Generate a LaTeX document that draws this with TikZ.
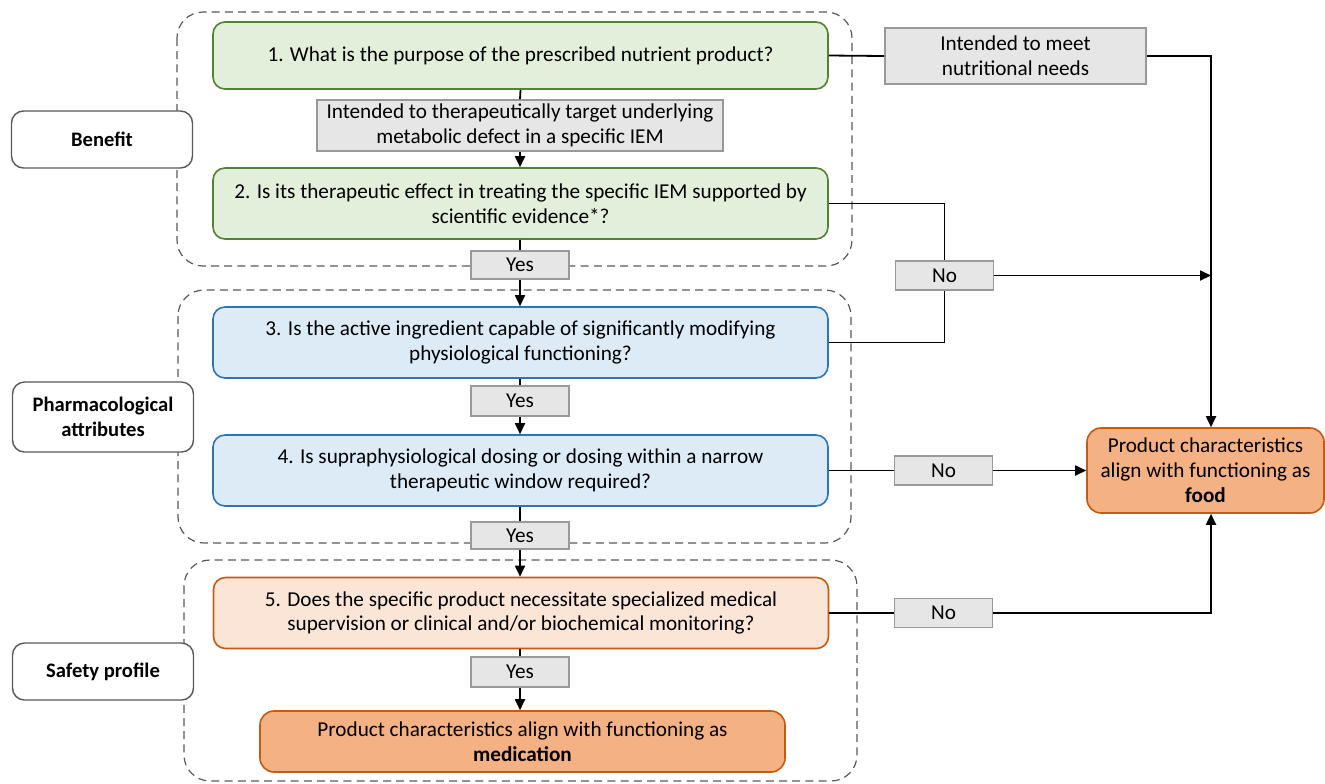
\documentclass[tikz,border=0pt]{standalone}
\usepackage{fontspec}
\setmainfont{Carlito}
\usetikzlibrary{arrows.meta}
\definecolor{grnfill}{HTML}{E2EFDA}
\definecolor{grnline}{HTML}{548235}
\definecolor{blufill}{HTML}{DDEBF7}
\definecolor{bluline}{HTML}{2E75B6}
\definecolor{pchfill}{HTML}{FBE5D6}
\definecolor{orgline}{HTML}{C55A11}
\definecolor{orgfill}{HTML}{F4B183}
\definecolor{gryfill}{HTML}{E6E6E6}
\definecolor{gryline}{HTML}{999999}
\definecolor{dashcol}{HTML}{595959}
\begin{document}
\begin{tikzpicture}[x=0.5pt,y=-0.5pt,
  every node/.style={font=\fontsize{10.6}{12.4}\selectfont, align=center, inner sep=0pt},
  qbox/.style={draw, rounded corners=6pt, line width=0.8pt, minimum width=307.5pt, minimum height=35.5pt},
  greenq/.style={qbox, fill=grnfill, draw=grnline},
  blueq/.style={qbox, fill=blufill, draw=bluline},
  peachq/.style={qbox, fill=pchfill, draw=orgline},
  result/.style={draw=orgline, fill=orgfill, rounded corners=7pt, line width=0.8pt},
  graybox/.style={draw=gryline, fill=gryfill, line width=0.9pt},
  answer/.style={graybox, minimum width=49pt, minimum height=14.5pt},
  label/.style={draw=dashcol, fill=white, rounded corners=6pt, line width=0.7pt, minimum width=90.5pt, font=\fontsize{10.3}{12.2}\selectfont\bfseries},
  group/.style={draw=dashcol, dash pattern=on 4pt off 2.6pt, rounded corners=13pt, line width=0.6pt},
  conn/.style={line width=0.9pt, black},
  arr/.style={conn, -{Triangle[length=5.5pt, width=5pt]}}
]
\useasboundingbox (0,0) rectangle (1325,783);

% dashed groups
\draw[group] (177,12) rectangle (852,266);
\draw[group] (178,290) rectangle (851,543);
\draw[group] (184,560) rectangle (857,781);

% left labels
\node[label, minimum height=28.5pt] (benefit) at (102,139.5) {Benefit};
\node[label, minimum height=35pt] (pharm) at (103,417) {Pharmacological\\attributes};
\node[label, minimum height=28.5pt] (safety) at (103,671.5) {Safety profile};

% questions
\node[greenq, minimum height=33.5pt] (q1) at (520.5,55.5) {1. What is the purpose of the prescribed nutrient product?};
\node[graybox, minimum width=203pt, minimum height=25.5pt] (ther) at (520,125.5) {Intended to therapeutically target underlying\\metabolic defect in a specific IEM};
\node[greenq] (q2) at (520.5,203.5) {2. Is its therapeutic effect in treating the specific IEM supported by\\scientific evidence*?};
\node[answer, minimum height=14pt] (y1) at (520,265) {Yes};
\node[blueq] (q3) at (520.5,342.5) {3. Is the active ingredient capable of significantly modifying\\physiological functioning?};
\node[answer, minimum height=15pt] (y2) at (520,401) {Yes};
\node[blueq] (q4) at (520.5,470.5) {4. Is supraphysiological dosing or dosing within a narrow\\therapeutic window required?};
\node[answer, minimum height=13.5pt] (y3) at (520,535.5) {Yes};
\node[peachq] (q5) at (521,613) {5. Does the specific product necessitate specialized medical\\supervision or clinical and/or biochemical monitoring?};
\node[answer, minimum height=15pt] (y4) at (520,672) {Yes};
\node[result, minimum width=262.5pt, minimum height=30.5pt] (med) at (522.5,741.5) {Product characteristics align with functioning as\\\textbf{medication}};

% right side
\node[graybox, minimum width=130.5pt, minimum height=28pt] (meet) at (1015.5,56) {Intended to meet\\nutritional needs};
\node[answer] (n1) at (944.5,275.5) {No};
\node[answer] (n2) at (943.5,470.5) {No};
\node[answer] (n3) at (943.5,613) {No};
\node[result, minimum width=118.5pt, minimum height=42.5pt] (food) at (1205.5,470.5) {Product characteristics\\align with functioning as\\\textbf{food}};
\coordinate (vx) at (1211,56);

% main column connectors
\draw[conn] (q1.south) -- (ther.north);
\draw[arr] (ther.south) -- (ther.south |- q2.north);
\draw[conn] (y1.north |- q2.south) -- (y1.north);
\draw[arr] (y1.south) -- (y1.south |- q3.north);
\draw[conn] (y2.north |- q3.south) -- (y2.north);
\draw[arr] (y2.south) -- (y2.south |- q4.north);
\draw[conn] (y3.north |- q4.south) -- (y3.north);
\draw[arr] (y3.south) -- (y3.south |- q5.north);
\draw[conn] (y4.north |- q5.south) -- (y4.north);
\draw[arr] (y4.south) -- (y4.south |- med.north);

% right connectors
\draw[conn] (q1.east) -- (meet.west);
\draw[arr] (meet.east) -- (vx) -- (vx |- food.north);
\draw[conn] (q2.east) -| (n1.north);
\draw[conn] (q3.east) -| (n1.south);
\draw[arr] (n1.east) -- (vx |- n1.east);
\draw[conn] (q4.east) -- (n2.west);
\draw[arr] (n2.east) -- (food.west);
\draw[conn] (q5.east) -- (n3.west);
\draw[arr] (n3.east) -| (vx |- food.south);
\end{tikzpicture}
\end{document}
